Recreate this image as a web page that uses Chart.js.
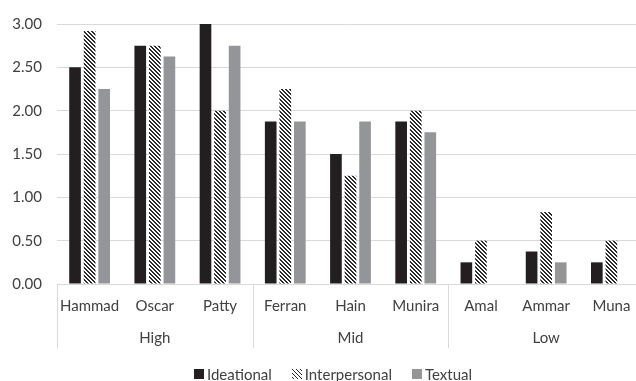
<!DOCTYPE html>
<html>
<head>
<meta charset="utf-8">
<script src="https://cdn.jsdelivr.net/npm/chart.js@4/dist/chart.umd.min.js"></script>
<style>
  html, body { margin: 0; padding: 0; background: #fff; overflow: hidden; }
  #wrap { position: relative; width: 636px; height: 381px; overflow: hidden; }
  #chart { position: absolute; left: 0; top: 0; }
  #legend {
    position: absolute; left: 194px; top: 365px;
    display: flex; align-items: center; white-space: nowrap;
    font: 15px Lato, sans-serif; line-height: 18px; color: #404040;
  }
  #legend .item { display: flex; align-items: center; margin-right: 20px; }
  #legend .item canvas { margin-right: 3px; }
</style>
</head>
<body>
<div id="wrap">
  <canvas id="chart" width="660" height="381"></canvas>
  <div id="legend"></div>
</div>
<script>
// Students, the proficiency level each belongs to, and the mean score per metafunction
const students      = ['Hammad', 'Oscar', 'Patty', 'Ferran', 'Hain', 'Munira', 'Amal', 'Ammar', 'Muna'];
const studentLevels = ['High', 'High', 'High', 'Mid', 'Mid', 'Mid', 'Low', 'Low', 'Low'];
const ideational    = [2.50, 2.75, 3.00, 1.875, 1.50, 1.875, 0.25, 0.375, 0.25];
const interpersonal = [2.92, 2.75, 2.00, 2.25, 1.25, 2.00, 0.50, 0.83, 0.50];
const textual       = [2.25, 2.625, 2.75, 1.875, 1.875, 1.75, 0, 0.25, 0];
const seriesNames   = ['Ideational', 'Interpersonal', 'Textual'];
const yMin = 0, yMax = 3, yStep = 0.5;

// Level labels in order of first appearance
const levels = studentLevels.filter((l, i) => studentLevels.indexOf(l) === i);

const FONT = { family: 'Lato', size: 15 };
const TEXT = '#404040';
const GRID = '#d9d9d9';

// Downward-diagonal hatch used for the Interpersonal series
function makeHatch(color) {
  const tile = document.createElement('canvas');
  tile.width = tile.height = 4;
  const g = tile.getContext('2d');
  g.fillStyle = '#ffffff';
  g.fillRect(0, 0, 4, 4);
  g.fillStyle = color;
  for (let y = 0; y < 4; y++) {
    g.fillRect(y, y, 1, 1);
    g.fillRect((y + 1) % 4, y, 1, 1);
  }
  return g.createPattern(tile, 'repeat');
}

const hatch = makeHatch('#2b2b2b');
const fills = ['#231f20', hatch, '#939598'];
const seriesData = [ideational, interpersonal, textual];

// Vertical separators between level groups, running through both label rows
const groupSeparators = {
  id: 'groupSeparators',
  afterDraw(chart) {
    const x = chart.scales.x, x2 = chart.scales.x2;
    const ctx = chart.ctx;
    const bounds = [];
    studentLevels.forEach((l, i) => { if (i === 0 || studentLevels[i - 1] !== l) bounds.push(i); });
    bounds.push(studentLevels.length);
    ctx.save();
    ctx.strokeStyle = GRID;
    ctx.lineWidth = 1;
    bounds.forEach(i => {
      const px = Math.round(x.getPixelForValue(i - 0.5)) + 0.5;
      ctx.beginPath();
      ctx.moveTo(px, x.top);
      ctx.lineTo(px, x2.bottom);
      ctx.stroke();
    });
    ctx.restore();
  }
};

const chart = new Chart(document.getElementById('chart'), {
  type: 'bar',
  data: {
    labels: students,
    datasets: seriesNames.map((name, k) => ({
      label: name,
      data: seriesData[k],
      backgroundColor: fills[k],
      borderWidth: 0,
      categoryPercentage: 0.67,
      barPercentage: 0.8
    }))
  },
  options: {
    responsive: false,
    animation: false,
    devicePixelRatio: 1,
    layout: { padding: { left: 0, right: 16, top: 22, bottom: 33 } },
    plugins: { legend: { display: false }, tooltip: { enabled: false } },
    scales: {
      x: {
        type: 'category',
        offset: true,
        grid: { display: false, drawTicks: false },
        border: { display: true, color: GRID, width: 1 },
        ticks: { color: TEXT, font: FONT, padding: 13, maxRotation: 0, autoSkip: false },
        afterFit(scale) { scale.height = 36; }
      },
      x2: {
        type: 'category',
        labels: levels,
        position: 'bottom',
        offset: true,
        grid: { display: false, drawTicks: false },
        border: { display: false },
        ticks: { color: TEXT, font: FONT, padding: 9.5, maxRotation: 0, autoSkip: false },
        afterFit(scale) { scale.height = 28; }
      },
      y: {
        min: yMin,
        max: yMax,
        grid: { color: GRID, lineWidth: 1, drawTicks: false },
        border: { display: false },
        ticks: {
          stepSize: yStep,
          color: TEXT,
          font: FONT,
          padding: 15,
          callback: v => Number(v).toFixed(2)
        },
        afterFit(scale) { scale.width = 57; }
      }
    }
  },
  plugins: [groupSeparators]
});

// HTML legend built from the chart's datasets
const legend = document.getElementById('legend');
chart.data.datasets.forEach(ds => {
  const item = document.createElement('span');
  item.className = 'item';
  const sw = document.createElement('canvas');
  sw.width = 10; sw.height = 10;
  const g = sw.getContext('2d');
  g.fillStyle = ds.backgroundColor === hatch ? makeHatchFor(g) : ds.backgroundColor;
  g.fillRect(0, 0, 10, 10);
  const label = document.createElement('span');
  label.textContent = ds.label;
  item.appendChild(sw);
  item.appendChild(label);
  legend.appendChild(item);
});

function makeHatchFor(g) {
  const tile = document.createElement('canvas');
  tile.width = tile.height = 4;
  const t = tile.getContext('2d');
  t.fillStyle = '#ffffff';
  t.fillRect(0, 0, 4, 4);
  t.fillStyle = '#2b2b2b';
  for (let y = 0; y < 4; y++) t.fillRect(y, y, 1, 1);
  return g.createPattern(tile, 'repeat');
}
</script>
</body>
</html>
